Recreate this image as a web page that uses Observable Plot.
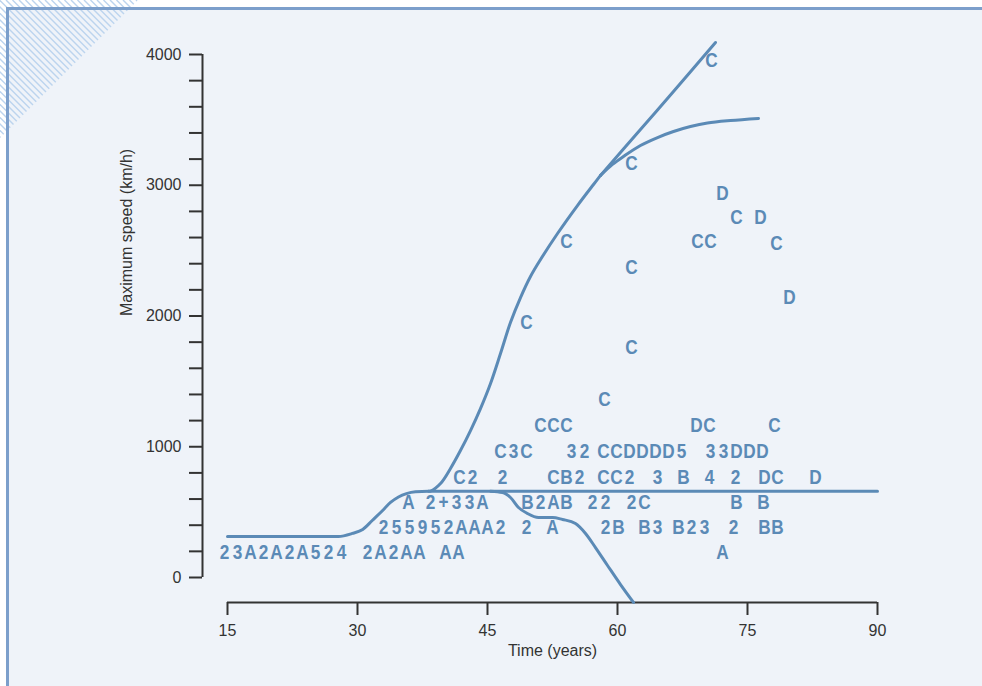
<!DOCTYPE html>
<html><head><meta charset="utf-8">
<script src="https://cdn.jsdelivr.net/npm/d3@7"></script>
<script src="https://cdn.jsdelivr.net/npm/@observablehq/plot@0.6"></script>
<style>
html,body{margin:0;padding:0;background:#fff;}
#wrap{position:relative;width:982px;height:686px;overflow:hidden;}
#deco{position:absolute;left:0;top:0;}
#chart{position:absolute;left:0;top:0;}
</style></head><body>
<div id="wrap"><svg id="deco" width="982" height="686"></svg><div id="chart"></div></div>
<script>
// ---- Data ----
const xLabel = "Time (years)";
const yLabel = "Maximum speed (km/h)";
const xTicks = [15, 30, 45, 60, 75, 90];
const yTicks = [0,200,400,600,800,1000,1200,1400,1600,1800,2000,2200,2400,2600,2800,3000,3200,3400,3600,3800,4000];
const yLabelTicks = [0, 1000, 2000, 3000, 4000];

// step curve: plateau ~310 km/h, rise to ~660 km/h plateau
const pistonCurve = [[15,314],[27.8,314],[29.4,337],[30.6,367],[31.7,436],[32.9,512],[33.81,574],[34.73,616],[35.65,642],[36.69,656],[38.2,660],[90,660]];
// S-shaped rise from the plateau
const jetRise = [[38.2,660],[38.42,661],[39.58,719],[40.73,834],[41.88,971],[43.04,1124],[44.19,1292],[45.35,1484],[46.5,1713],[47.65,1950],[48.81,2141],[49.96,2302],[51.12,2432],[53.08,2631],[55.38,2845],[57.23,3006],[58.04,3075]];
const branchUp = [[58.04,3075],[62.65,3426],[66.46,3717],[71.31,4092]];
const branchFlat = [[58.04,3075],[59.42,3159],[60.69,3220],[62.65,3304],[64.62,3365],[66.46,3411],[68.42,3449],[70.38,3476],[73.04,3495],[76.27,3511]];
const declineCurve = [[45.35,660],[46.73,650],[47.65,612],[48.58,535],[49.62,489],[50.88,459],[52.5,459],[53.65,444],[55.15,413],[56.31,337],[57.46,229],[58.85,92],[60.35,-54],[61.85,-191]];

// letter groups: [first character year, speed, characters (one per 1.5-year step)]
const letterGroups = [
  [14.65, 191, "23A2A2A524 2A2AA AA"],
  [72.11, 191, "A"],
  [33.0, 382, "255952AAA2 2 A"],
  [58.62, 382, "2B B3"],
  [67.04, 382, "B23"],
  [73.38, 382, "2"],
  [76.96, 382, "BB"],
  [35.88, 574, "A"],
  [38.42, 574, "2+33A"],
  [49.62, 574, "B2AB 22 2C"],
  [73.73, 574, "B"],
  [76.85, 574, "B"],
  [41.77, 765, "C2"],
  [46.73, 765, "2"],
  [52.62, 765, "CB2"],
  [58.38, 765, "CC2"],
  [64.62, 765, "3"],
  [67.62, 765, "B"],
  [70.62, 765, "4"],
  [73.62, 765, "2"],
  [76.96, 765, "DC"],
  [82.85, 765, "D"],
  [46.5, 964, "C3C"],
  [54.69, 964, "32"],
  [58.38, 964, "CCDDDD5"],
  [70.73, 964, "33DDD"],
  [51.12, 1163, "CCC"],
  [69.12, 1163, "DC"],
  [78.12, 1163, "C"],
  [58.5, 1365, "C"],
  [61.62, 1759, "C"],
  [49.5, 1950, "C"],
  [79.85, 2141, "D"],
  [61.62, 2371, "C"],
  [54.12, 2570, "C"],
  [69.23, 2570, "CC"],
  [78.35, 2555, "C"],
  [73.73, 2753, "C"],
  [76.5, 2753, "D"],
  [72.12, 2937, "D"],
  [61.62, 3166, "C"],
  [70.85, 3954, "C"]
];
const charStep = 1.5;

// ---- Decoration (page frame) ----
const deco = d3.select("#deco");
deco.append("rect").attr("x", 7).attr("y", 8).attr("width", 990).attr("height", 690).attr("fill", "#eff3f9");
const defs = deco.append("defs");
defs.append("clipPath").attr("id", "tri").append("polygon").attr("points", "0,0 138,0 0,138");
const hatch = deco.append("g").attr("clip-path", "url(#tri)");
for (let c = -150; c < 150; c += 6.5) {
  hatch.append("line").attr("x1", c).attr("y1", 0).attr("x2", c + 160).attr("y2", 160)
    .attr("stroke", "#bcd4ee").attr("stroke-width", 1.4);
}
deco.append("line").attr("x1", 6).attr("y1", 8.5).attr("x2", 982).attr("y2", 8.5).attr("stroke", "#7c9fcb").attr("stroke-width", 3);
deco.append("line").attr("x1", 7.5).attr("y1", 7).attr("x2", 7.5).attr("y2", 686).attr("stroke", "#7c9fcb").attr("stroke-width", 3);

// ---- Chart ----
const marginLeft = 202, marginRight = 105, marginTop = 54, marginBottom = 84;
const W = 982, H = 686;
const pxPerYear = (W - marginRight - 227) / (90 - 15);
const xMin = 15 - (227 - marginLeft) / pxPerYear;
const pxPerUnit = (577 - marginTop) / 4000;
const yMin = -((H - marginBottom) - 577) / pxPerUnit;

const letters = letterGroups.flatMap(([x0, y, s]) =>
  [...s].map((ch, i) => ({x: x0 + i * charStep, y, ch})).filter(d => d.ch !== " "));
const toObj = a => a.map(([x, y]) => ({x, y}));

const lineColor = "#5b8ab6";
const axisColor = "#333";
const lineOpts = {x: "x", y: "y", stroke: lineColor, strokeWidth: 3, curve: "catmull-rom"};

function squeeze(t) {
  const tr = t.getAttribute("transform");
  if (tr) t.setAttribute("transform", tr + " scale(0.82,1)");
  else {
    const x = +t.getAttribute("x") || 0, y = +t.getAttribute("y") || 0;
    t.removeAttribute("x"); t.removeAttribute("y");
    t.setAttribute("transform", `translate(${x},${y}) scale(0.82,1)`);
  }
}

const chart = Plot.plot({
  width: W, height: H,
  marginLeft, marginRight, marginTop, marginBottom,
  style: {background: "transparent", fontFamily: "'Liberation Sans', Arial, sans-serif", fontSize: "16px", color: axisColor, overflow: "visible"},
  x: {domain: [xMin, 90]},
  y: {domain: [yMin, 4000]},
  marks: [
    Plot.ruleX([{x: xMin, y1: 0, y2: 4000}], {x: "x", y1: "y1", y2: "y2", stroke: axisColor, strokeWidth: 2}),
    Plot.axisY({ticks: yTicks, tickSize: 13, tickPadding: 8, strokeWidth: 2, color: axisColor, label: null,
      tickFormat: d => yLabelTicks.includes(d) ? String(d) : ""}),
    Plot.ruleY([{y: yMin, x1: 15, x2: 90}], {y: "y", x1: "x1", x2: "x2", stroke: axisColor, strokeWidth: 2}),
    Plot.axisX({ticks: xTicks, tickSize: 13, tickPadding: 9, strokeWidth: 2, color: axisColor, label: null,
      tickFormat: d => String(d)}),
    Plot.text([{t: xLabel, x: 52.5}], {x: "x", text: "t", frameAnchor: "bottom", lineAnchor: "top", dy: 42, fontSize: 16, fill: axisColor}),
    Plot.text([{t: yLabel, y: 2000}], {y: "y", text: "t", frameAnchor: "left", dx: -76, rotate: -90, fontSize: 16, fill: axisColor}),
    Plot.line(toObj(pistonCurve), {...lineOpts, curve: "monotone-x"}),
    Plot.line(toObj(jetRise), lineOpts),
    Plot.line(toObj(branchUp), lineOpts),
    Plot.line(toObj(branchFlat), lineOpts),
    Plot.line(toObj(declineCurve), {...lineOpts, curve: "monotone-x"}),
    Plot.text(letters, {x: "x", y: "y", text: "ch", fill: lineColor, fontSize: 21, fontWeight: "bold",
      fontFamily: "'Liberation Sans', Arial, sans-serif",
      render: (index, scales, values, dims, ctx, next) => {
        const g = next(index, scales, values, dims, ctx);
        g.querySelectorAll("text").forEach(squeeze);
        return g;
      }})
  ]
});
document.getElementById("chart").appendChild(chart);
</script>
</body></html>
